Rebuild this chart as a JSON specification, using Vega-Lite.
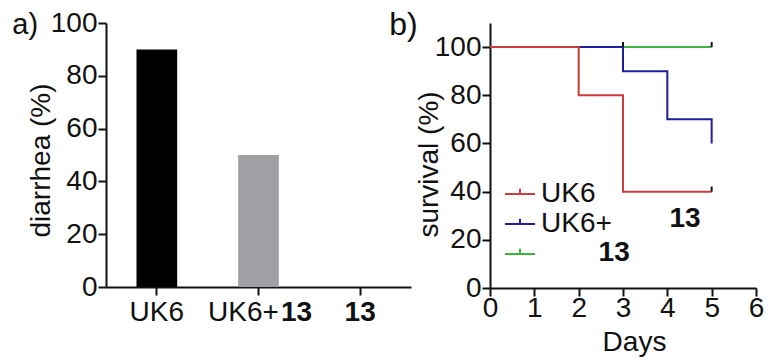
{
  "$schema": "https://vega.github.io/schema/vega-lite/v6.json",
  "background": "white",
  "padding": {"left": 12, "top": 9, "right": 5, "bottom": 2},
  "spacing": -22,
  "resolve": {"scale": {"color": "independent"}, "legend": {"color": "independent"}},
  "config": {
    "font": "Liberation Sans",
    "view": {"stroke": null},
    "axis": {
      "labelFont": "Liberation Sans", "labelFontSize": 28, "labelColor": "#111",
      "titleFont": "Liberation Sans", "titleFontSize": 28, "titleFontWeight": "normal", "titleColor": "#111",
      "domainColor": "#111", "domainWidth": 2, "tickColor": "#111", "tickWidth": 2, "tickSize": 8,
      "grid": false, "labelPadding": 2
    },
    "title": {"font": "Liberation Sans", "fontSize": 28, "fontWeight": "normal", "color": "#111"},
    "legend": {"labelFont": "Liberation Sans", "labelFontSize": 28, "labelColor": "#111"}
  },
  "hconcat": [
    {
      "width": 305,
      "height": 264,
      "title": {"text": "a)", "anchor": "start", "frame": "bounds", "dx": -15, "dy": 35, "fontSize": 29},
      "data": {"values": [
        {"group": "UK6", "diarrhea": 90},
        {"group": "UK6+13", "diarrhea": 50},
        {"group": "13", "diarrhea": 0}
      ]},
      "layer": [
        {
          "mark": {"type": "bar"},
          "encoding": {
            "x": {"field": "group", "type": "nominal", "sort": null,
              "scale": {"domain": ["UK6", "UK6+13", "13"], "paddingInner": 0.6, "paddingOuter": 0.3},
              "axis": {"title": null, "labelAngle": 0, "labelPadding": 3,
                "labelExpr": "datum.value == 'UK6+13' ? 'UK6+' : (datum.value == '13' ? '' : datum.value)",
                "labelOffset": {"condition": {"test": "datum.value == 'UK6+13'", "value": -15}, "value": 0}}},
            "y": {"field": "diarrhea", "type": "quantitative",
              "scale": {"domain": [0, 100], "nice": false},
              "axis": {"title": "diarrhea (%)", "values": [0, 20, 40, 60, 80, 100], "titleY": 137, "labelPadding": 1, "titlePadding": -5}},
            "color": {"field": "group", "type": "nominal",
              "scale": {"domain": ["UK6", "UK6+13", "13"], "range": ["#000000", "#a0a0a4", "#ffffff"]},
              "legend": null}
          }
        },
        {
          "mark": {"type": "bar", "opacity": 0},
          "encoding": {
            "x": {"field": "group", "type": "nominal", "sort": null,
              "scale": {"domain": ["UK6", "UK6+13", "13"], "paddingInner": 0.6, "paddingOuter": 0.3},
              "axis": {"orient": "bottom", "title": null, "labelAngle": 0, "domain": false, "ticks": false,
                "labelPadding": 11, "labelFontWeight": "bold",
                "labelExpr": "datum.value == 'UK6' ? '' : '13'",
                "labelOffset": {"condition": {"test": "datum.value == 'UK6+13'", "value": 38}, "value": 0}}},
            "y": {"field": "diarrhea", "type": "quantitative",
              "scale": {"domain": [0, 100], "nice": false},
              "axis": {"title": "diarrhea (%)", "values": [0, 20, 40, 60, 80, 100], "titleY": 137, "labelPadding": 1, "titlePadding": -5}}
          }
        }
      ],
      "resolve": {"axis": {"x": "independent"}}
    },
    {
      "width": 266,
      "height": 265,
      "title": {"text": "b)", "anchor": "start", "frame": "bounds", "dx": -26, "dy": 23, "fontSize": 32},
      "layer": [
        {
          "data": {"values": [
            {"series": "13", "day": 0, "survival": 100},
            {"series": "13", "day": 5, "survival": 100},
            {"series": "UK6+13", "day": 0, "survival": 100},
            {"series": "UK6+13", "day": 3, "survival": 90},
            {"series": "UK6+13", "day": 4, "survival": 70},
            {"series": "UK6+13", "day": 5, "survival": 60},
            {"series": "UK6", "day": 0, "survival": 100},
            {"series": "UK6", "day": 2, "survival": 80},
            {"series": "UK6", "day": 3, "survival": 40},
            {"series": "UK6", "day": 5, "survival": 40}
          ]},
          "mark": {"type": "line", "interpolate": "step-after", "strokeWidth": 2},
          "encoding": {
            "x": {"field": "day", "type": "quantitative",
              "scale": {"domain": [0, 6], "nice": false},
              "axis": {"title": "Days", "values": [0, 1, 2, 3, 4, 5, 6], "labelFlush": false, "labelPadding": -2, "titleX": 144, "titlePadding": 6}},
            "y": {"field": "survival", "type": "quantitative",
              "scale": {"domain": [0, 110], "nice": false},
              "axis": {"title": "survival (%)", "values": [0, 20, 40, 60, 80, 100], "titleY": 141, "labelPadding": 1, "titlePadding": -9}},
            "color": {"field": "series", "type": "nominal",
              "scale": {"domain": ["UK6", "UK6+13", "13"], "range": ["#cf3a3a", "#1f1f9e", "#3db43d"]},
              "legend": {"orient": "none", "legendX": 14, "legendY": 155, "title": null,
                "symbolType": "M-1,0H1M0,0V-0.35", "symbolSize": 900, "symbolStrokeWidth": 2,
                "labelOffset": 5, "rowPadding": -1,
                "labelExpr": "datum.value == 'UK6+13' ? 'UK6+' : (datum.value == '13' ? '' : datum.value)"}}
          }
        },
        {
          "data": {"values": [
            {"day": 3, "survival": 100},
            {"day": 5, "survival": 100},
            {"day": 5, "survival": 40}
          ]},
          "mark": {"type": "point", "shape": "M0,0V-1", "size": 100, "filled": false, "stroke": "#111", "strokeWidth": 2, "opacity": 1},
          "encoding": {
            "x": {"field": "day", "type": "quantitative"},
            "y": {"field": "survival", "type": "quantitative"}
          }
        },
        {
          "data": {"values": [
            {"day": 4.4, "survival": 28.6, "label": "13"},
            {"day": 2.8, "survival": 14.5, "label": "13"}
          ]},
          "mark": {"type": "text", "fontWeight": "bold", "fontSize": 28, "font": "Liberation Sans", "color": "#111", "align": "center", "baseline": "middle"},
          "encoding": {
            "x": {"field": "day", "type": "quantitative"},
            "y": {"field": "survival", "type": "quantitative"},
            "text": {"field": "label"}
          }
        }
      ]
    }
  ]
}
